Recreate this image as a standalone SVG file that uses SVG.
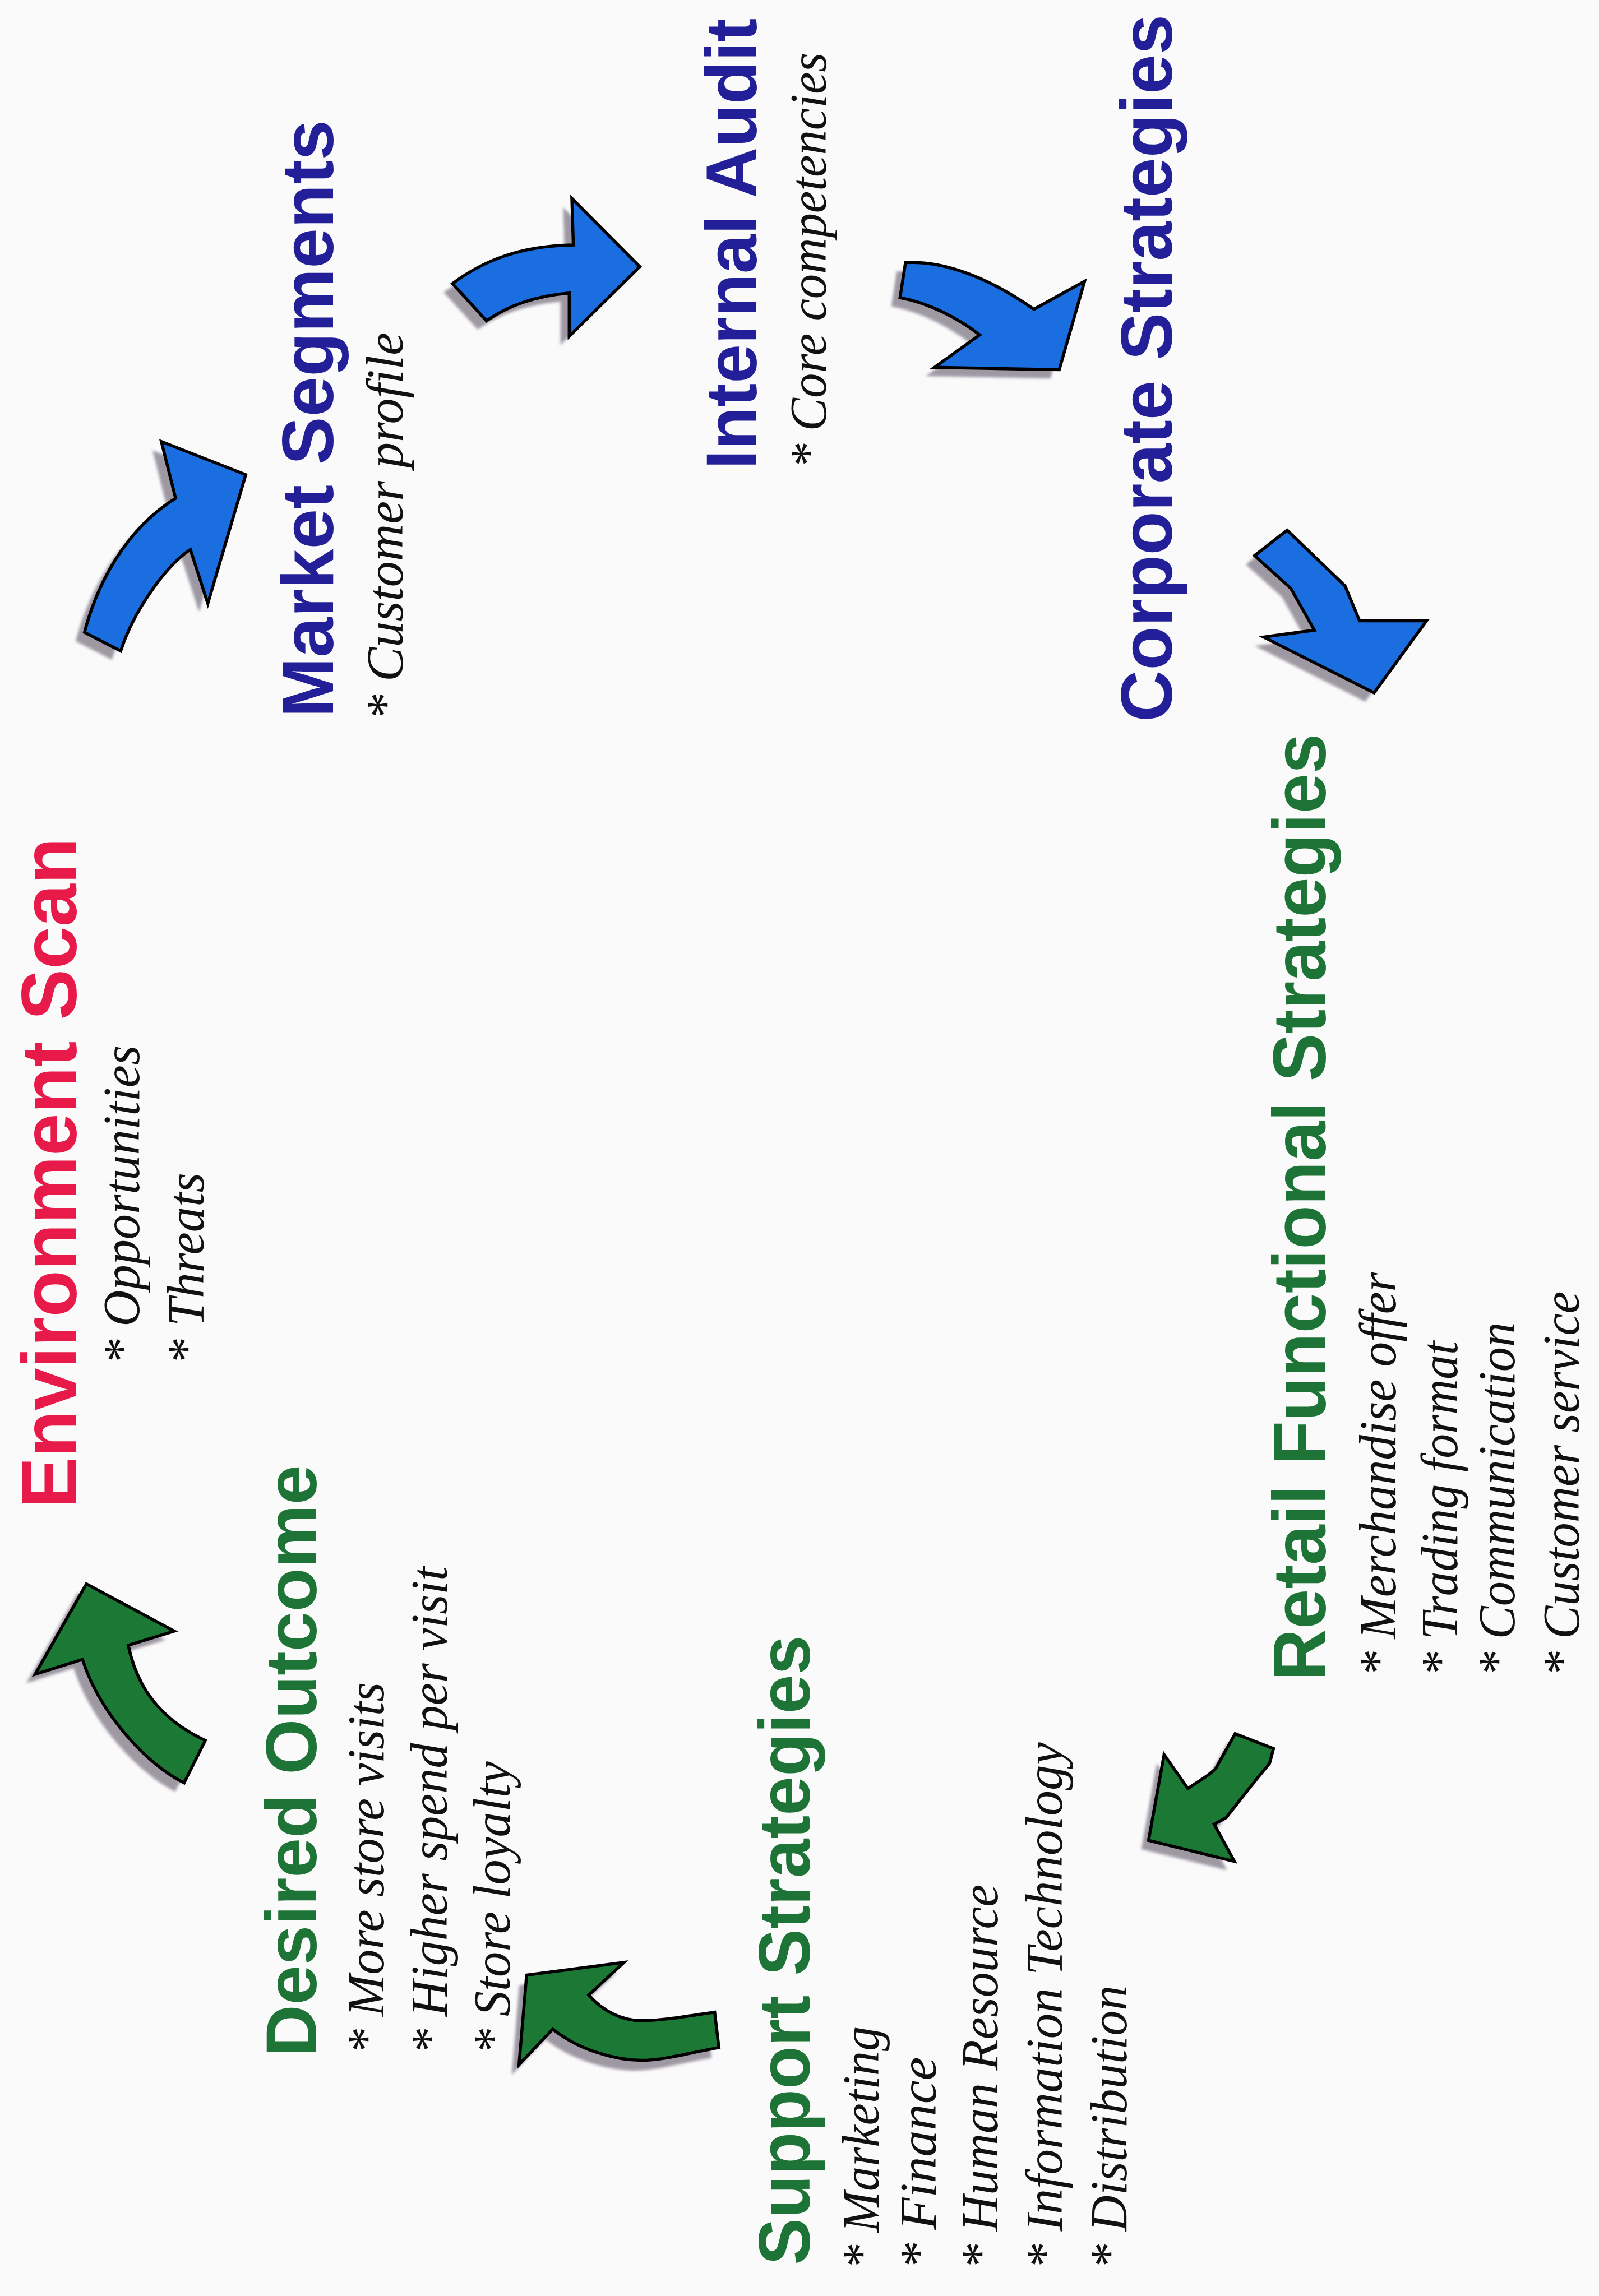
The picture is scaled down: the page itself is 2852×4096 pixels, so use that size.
<svg xmlns="http://www.w3.org/2000/svg" xmlns:xlink="http://www.w3.org/1999/xlink" width="2852" height="4096" viewBox="0 0 2852 4096">
<style>
.h{font-family:"Liberation Sans",Arial,Helvetica,sans-serif;font-weight:bold;}
.red{fill:#e81a4a;}
.blue{fill:#221f98;}
.green{fill:#1e7436;}
.b{font-family:"Liberation Serif","Times New Roman",serif;font-style:italic;font-size:36px;fill:#111111;}
.ab{fill:#1a6ee0;stroke:#000000;stroke-width:2.1;stroke-linejoin:miter;}
.ag{fill:#1c7935;stroke:#000000;stroke-width:2.1;stroke-linejoin:miter;}
.sh{fill:#8e8794;opacity:0.85;}
</style>
<defs>
<filter id="blur" x="-20%" y="-20%" width="140%" height="140%"><feGaussianBlur stdDeviation="1"/></filter>
<path id="p1" d="M57.7,431.9 C66,400 85,362 119.9,340.3 L110.2,301.6 L167.8,324.2 L141.9,412.2 L130,375.3 C115,385 92,415 82.4,444.6 Z"/>
<path id="p2" d="M309,193.7 C330,178 355,168 391.5,167.3 L390.5,135.5 L436.9,182.1 L388.7,229.7 L388.7,200.1 Q355,203 332.2,219.1 Z"/>
<path id="p3" d="M618.3,179.4 C640,178 670,186 706,211.2 L740.6,192.1 L723.3,252.5 L638.1,250.9 L669,228.7 C655,218 635,207 614.6,203.3 Z"/>
<path id="p4" d="M878.9,362.1 L918.5,400.2 L928.4,424 L974.1,424 L938.3,473.2 L862.9,435.1 L897.5,430.4 L881.4,401.8 L856.7,379.5 Z"/>
<path id="p5" d="M843.4,1184.1 L869.6,1194.3 L866.9,1204.4 Q858,1215 852.6,1222 L837.4,1241.3 L829.1,1245.9 L842.9,1271.3 L784.3,1257 L794.9,1198.4 L811.1,1221.5 L818.9,1216.4 Q826,1212 830,1208.1 Z"/>
<path id="p6" d="M59,1081.8 L119,1114 L87.6,1123.7 C91,1140 100,1170 140.2,1188.7 L125.7,1217.7 C100,1205 68,1170 56.3,1133.4 L24,1143.5 Z"/>
<path id="p7" d="M359.6,1349 L426.1,1340.3 L402,1362.6 C412,1374 425,1380 437.6,1380.1 C455,1380 475,1376 488,1374.3 L490.9,1398.5 C470,1402 455,1407 437.6,1407.2 C420,1407 395,1400 377.4,1385.9 L354.4,1410.2 Z"/>
</defs>
<rect x="0" y="0" width="2852" height="4096" fill="#fafafb"/>
<g transform="scale(2.612)">
<g id="connectors">
<g id="arrow-env-market"><use xlink:href="#p1" class="sh" transform="translate(-6,6)" filter="url(#blur)"/><use xlink:href="#p1" class="ab"/></g>
<g id="arrow-market-audit"><use xlink:href="#p2" class="sh" transform="translate(-6,6)" filter="url(#blur)"/><use xlink:href="#p2" class="ab"/></g>
<g id="arrow-audit-corporate"><use xlink:href="#p3" class="sh" transform="translate(-6,6)" filter="url(#blur)"/><use xlink:href="#p3" class="ab"/></g>
<g id="arrow-corporate-retail"><use xlink:href="#p4" class="sh" transform="translate(-6,6)" filter="url(#blur)"/><use xlink:href="#p4" class="ab"/></g>
<g id="arrow-retail-support"><use xlink:href="#p5" class="sh" transform="translate(-5,6)" filter="url(#blur)"/><use xlink:href="#p5" class="ag"/></g>
<g id="arrow-support-desired"><use xlink:href="#p7" class="sh" transform="translate(-5,7)" filter="url(#blur)"/><use xlink:href="#p7" class="ag"/></g>
<g id="arrow-desired-env"><use xlink:href="#p6" class="sh" transform="translate(-6,6)" filter="url(#blur)"/><use xlink:href="#p6" class="ag"/></g>
</g>
<g id="env-scan">
<text class="h red" font-size="53" transform="translate(52,1030) rotate(-90)" textLength="458" lengthAdjust="spacingAndGlyphs">Environment Scan</text>
<text class="b" transform="translate(95,932) rotate(-90)" textLength="218" lengthAdjust="spacingAndGlyphs">* Opportunities</text>
<text class="b" transform="translate(139,932) rotate(-90)" textLength="131" lengthAdjust="spacingAndGlyphs">* Threats</text>
</g>
<g id="market-segments">
<text class="h blue" font-size="50" transform="translate(227.5,490) rotate(-90)" textLength="408" lengthAdjust="spacingAndGlyphs">Market Segments</text>
<text class="b" transform="translate(275,492) rotate(-90)" textLength="265" lengthAdjust="spacingAndGlyphs">* Customer profile</text>
</g>
<g id="internal-audit">
<text class="h blue" font-size="49" transform="translate(516.5,320.5) rotate(-90)" textLength="308" lengthAdjust="spacingAndGlyphs">Internal Audit</text>
<text class="b" transform="translate(564,320) rotate(-90)" textLength="284" lengthAdjust="spacingAndGlyphs">* Core competencies</text>
</g>
<g id="corporate-strategies">
<text class="h blue" font-size="50" transform="translate(800,493) rotate(-90)" textLength="483" lengthAdjust="spacingAndGlyphs">Corporate Strategies</text>
</g>
<g id="retail-functional">
<text class="h green" font-size="51" transform="translate(905,1148) rotate(-90)" textLength="647" lengthAdjust="spacingAndGlyphs">Retail Functional Strategies</text>
<text class="b" transform="translate(953,1145) rotate(-90)" textLength="276" lengthAdjust="spacingAndGlyphs">* Merchandise offer</text>
<text class="b" transform="translate(995,1145) rotate(-90)" textLength="229" lengthAdjust="spacingAndGlyphs">* Trading format</text>
<text class="b" transform="translate(1034,1145) rotate(-90)" textLength="242" lengthAdjust="spacingAndGlyphs">* Communication</text>
<text class="b" transform="translate(1078,1145) rotate(-90)" textLength="263" lengthAdjust="spacingAndGlyphs">* Customer service</text>
</g>
<g id="support-strategies">
<text class="h green" font-size="50" transform="translate(553,1547) rotate(-90)" textLength="430" lengthAdjust="spacingAndGlyphs">Support Strategies</text>
<text class="b" transform="translate(600,1550) rotate(-90)" textLength="166" lengthAdjust="spacingAndGlyphs">* Marketing</text>
<text class="b" transform="translate(639,1550) rotate(-90)" textLength="145" lengthAdjust="spacingAndGlyphs">* Finance</text>
<text class="b" transform="translate(681,1550) rotate(-90)" textLength="263" lengthAdjust="spacingAndGlyphs">* Human Resource</text>
<text class="b" transform="translate(725,1550) rotate(-90)" textLength="360" lengthAdjust="spacingAndGlyphs">* Information Technology</text>
<text class="b" transform="translate(769,1550) rotate(-90)" textLength="194" lengthAdjust="spacingAndGlyphs">* Distribution</text>
</g>
<g id="desired-outcome">
<text class="h green" font-size="49" transform="translate(216,1404.5) rotate(-90)" textLength="404" lengthAdjust="spacingAndGlyphs">Desired Outcome</text>
<text class="b" transform="translate(262,1403) rotate(-90)" textLength="254" lengthAdjust="spacingAndGlyphs">* More store visits</text>
<text class="b" transform="translate(305,1403) rotate(-90)" textLength="333" lengthAdjust="spacingAndGlyphs">* Higher spend per visit</text>
<text class="b" transform="translate(348,1403) rotate(-90)" textLength="200" lengthAdjust="spacingAndGlyphs">* Store loyalty</text>
</g>
</g>
</svg>
